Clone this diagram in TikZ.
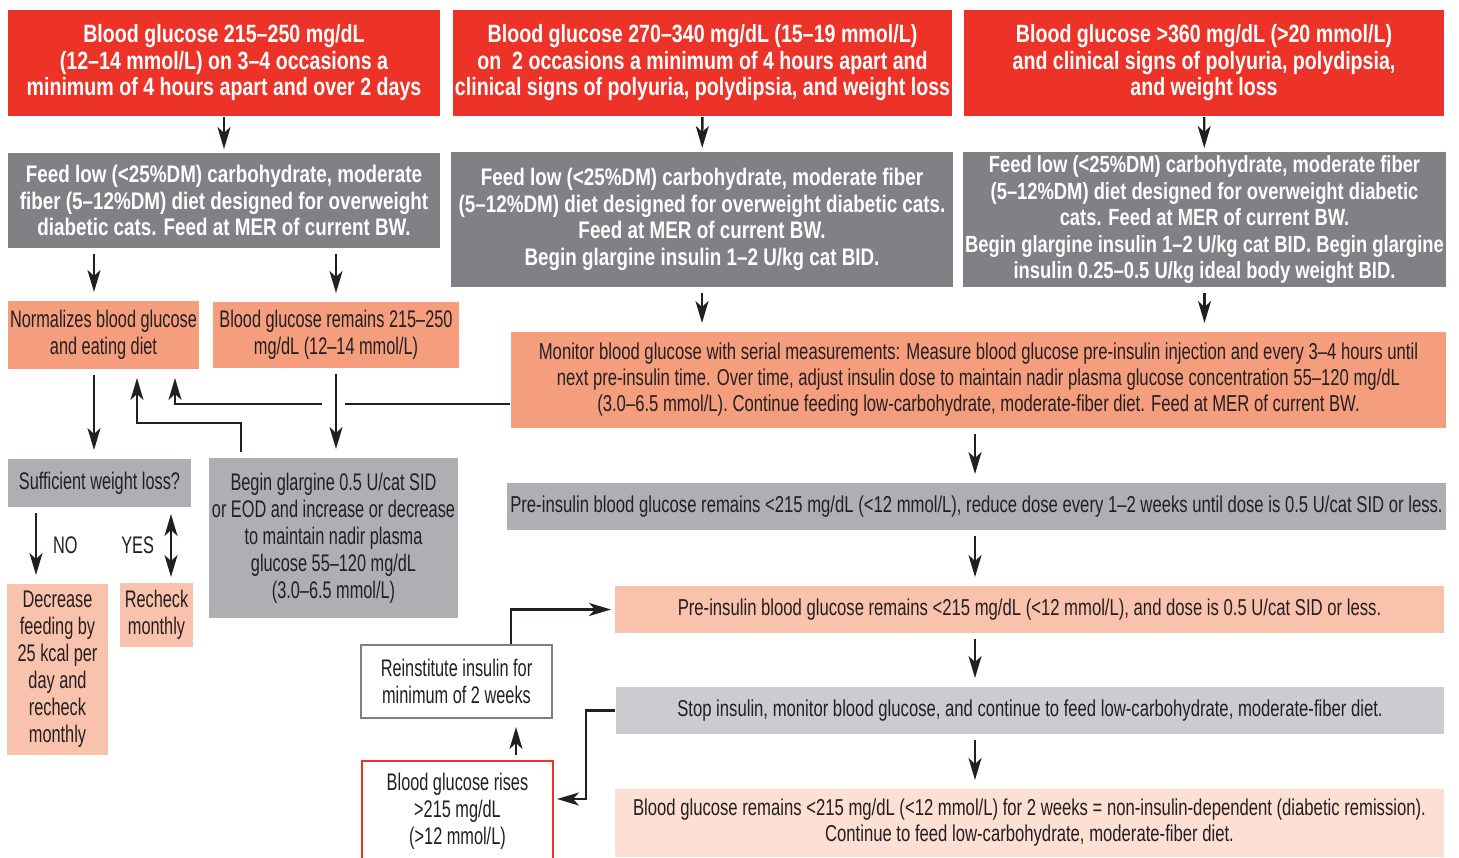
\documentclass[tikz,border=0pt]{standalone}
\usepackage{fontspec}
\setmainfont{Liberation Sans}
\newfontfamily\headfont[FakeStretch=0.785]{Liberation Sans}
\newfontfamily\bodyfont[FakeStretch=0.68]{Liberation Sans}
\newfontfamily\widefont[FakeStretch=0.725]{Liberation Sans}
\usetikzlibrary{arrows.meta}
\definecolor{bgred}{RGB}{237,50,40}
\definecolor{dietgrey}{RGB}{128,129,133}
\definecolor{salmon}{RGB}{245,158,126}
\definecolor{midgrey}{RGB}{174,175,179}
\definecolor{peach}{RGB}{249,194,172}
\definecolor{lightgrey}{RGB}{203,204,207}
\definecolor{blush}{RGB}{253,223,212}
\definecolor{boxgrey}{RGB}{128,128,128}
\definecolor{ink}{RGB}{35,31,32}

\begin{document}
\begin{tikzpicture}[x=0.5pt,y=-0.5pt, line width=1.2pt, every node/.style={align=center,inner sep=0pt,line width=1pt},
  head/.style={fill=bgred,text=white,font=\headfont\bfseries\fontsize{12.5}{13.25}\selectfont},
  diet/.style={fill=dietgrey,text=white,font=\headfont\bfseries\fontsize{12}{13.25}\selectfont},
  body/.style={text=ink,font=\bodyfont\fontsize{12}{13.5}\selectfont},
  wide/.style={text=ink,font=\widefont\fontsize{11.5}{13}\selectfont},
  sz/.style 2 args={minimum width=#1*0.5pt,minimum height=#2*0.5pt},
  arr/.style={->,shorten >=1.5pt}, varr/.style={->,shorten <=2.5pt,shorten >=4pt},
  >={Stealth[length=11pt,width=6.5pt,inset=3pt]}, draw=ink]
\useasboundingbox (0,0) rectangle (1459,857);
\clip (0,0) rectangle (1459,857);
\node[head,sz={432}{106}] (bg1) at (224,63) {Blood glucose 215–250 mg/dL\\(12–14 mmol/L) on 3–4 occasions a\\minimum of 4 hours apart and over 2 days};
\node[head,sz={499}{106}] (bg2) at (702.5,63) {Blood glucose 270–340 mg/dL (15–19 mmol/L)\\on~ 2 occasions a minimum of 4 hours apart and\\clinical signs of polyuria, polydipsia, and weight loss};
\node[head,sz={480}{106}] (bg3) at (1204,63) {Blood glucose >360 mg/dL (>20 mmol/L)\\and clinical signs of polyuria, polydipsia,\\and weight loss};
\node[diet,sz={432}{95}] (diet1) at (224,200.5) {Feed low (<25\%DM) carbohydrate, moderate\\fiber (5–12\%DM) diet designed for overweight\\diabetic cats. Feed at MER of current BW.};
\node[diet,sz={502}{135}] (diet2) at (702,219.5) {Feed low (<25\%DM) carbohydrate, moderate fiber\\(5–12\%DM) diet designed for overweight diabetic cats.\\Feed at MER of current BW.\\Begin glargine insulin 1–2 U/kg cat BID.};
\node[diet,sz={483}{135},font=\headfont\bfseries\fontsize{11.7}{13.25}\selectfont] (diet3) at (1204.5,219.5) {Feed low (<25\%DM) carbohydrate, moderate fiber\\(5–12\%DM) diet designed for overweight diabetic\\cats. Feed at MER of current BW.\\Begin glargine insulin 1–2 U/kg cat BID. Begin glargine\\insulin 0.25–0.5 U/kg ideal body weight BID.};
\node[body,fill=salmon,sz={191}{68}] (normal) at (103.5,335) {Normalizes blood glucose\\and eating diet};
\node[body,fill=salmon,sz={246}{66}] (remain) at (336,335) {Blood glucose remains 215–250\\mg/dL (12–14 mmol/L)};
\node[wide,fill=salmon,sz={935}{96}] (monitor) at (978.5,380) {Monitor blood glucose with serial measurements: Measure blood glucose pre-insulin injection and every 3–4 hours until\\next pre-insulin time. Over time, adjust insulin dose to maintain nadir plasma glucose concentration 55–120 mg/dL\\(3.0–6.5 mmol/L). Continue feeding low-carbohydrate, moderate-fiber diet. Feed at MER of current BW.};
\node[body,fill=midgrey,sz={183}{48}] (wtloss) at (99.5,483) {Sufficient weight loss?};
\node[body,fill=midgrey,sz={249}{160}] (glarg) at (333.5,538) {Begin glargine 0.5 U/cat SID\\or EOD and increase or decrease\\to maintain nadir plasma\\glucose 55–120 mg/dL\\(3.0–6.5 mmol/L)};
\node[wide,fill=midgrey,sz={939}{47}] (reduce) at (976.5,506.5) {Pre-insulin blood glucose remains <215 mg/dL (<12 mmol/L), reduce dose every 1–2 weeks until dose is 0.5 U/cat SID or less.};
\node[body,fill=peach,sz={101}{171}] (decr) at (57.5,669.5) {Decrease\\feeding by\\25 kcal per\\day and\\recheck\\monthly};
\node[body,fill=peach,sz={73}{64}] (recheck) at (156.5,615) {Recheck\\monthly};
\node[wide,fill=peach,sz={829}{47}] (lowdose) at (1029.5,609.5) {Pre-insulin blood glucose remains <215 mg/dL (<12 mmol/L), and dose is 0.5 U/cat SID or less.};
\node[body,draw=boxgrey,fill=white,sz={191}{73}] (reinst) at (456.5,681.5) {Reinstitute insulin for\\minimum of 2 weeks};
\node[wide,fill=lightgrey,sz={828}{47}] (stop) at (1030,710.5) {Stop insulin, monitor blood glucose, and continue to feed low-carbohydrate, moderate-fiber diet.};
\node[body,draw=bgred,fill=white,sz={191}{100}] (rises) at (457.5,811) {Blood glucose rises\\>215 mg/dL\\(>12 mmol/L)};
\node[wide,fill=blush,sz={829}{68}] (remiss) at (1029.5,823) {Blood glucose remains <215 mg/dL (<12 mmol/L) for 2 weeks = non-insulin-dependent (diabetic remission).\\Continue to feed low-carbohydrate, moderate-fiber diet.};
\coordinate (cA) at (94,0); \coordinate (cB) at (175,404); \coordinate (cC) at (241,423); \coordinate (cD) at (137,0);
\coordinate (cE) at (36,0); \coordinate (cF) at (171,0); \coordinate (cG) at (975,0); \coordinate (cH) at (516,0);
\coordinate (cI) at (511,0); \coordinate (hopR) at (345,404); \coordinate (hopL) at (327,404); \coordinate (turn) at (586,799);
\draw[arr] (bg1) -- (diet1); \draw[arr] (bg2) -- (diet2); \draw[arr] (bg3) -- (diet3);
\draw[varr] (diet1.south -| cA) -- (normal.north -| cA); \draw[varr] (diet1.south -| remain) -- (remain);
\draw[varr] (diet2) -- (diet2 |- monitor.north); \draw[varr] (diet3) -- (diet3 |- monitor.north);
\draw[varr] (normal.south -| cA) -- (wtloss.north -| cA); \draw[varr] (remain) -- (remain |- glarg.north);
\draw (monitor.west |- hopR) -- (hopR); \draw[varr] (hopL) -- (cB) -- (normal.south -| cB);
\draw[varr] (glarg.north -| cC) -- (cC) -| (normal.south -| cD);
\draw[varr] (wtloss.south -| cE) -- node[right=8pt,body]{NO} (decr.north -| cE);
\draw[<->,shorten <=3pt,shorten >=2.5pt] (wtloss.south -| cF) -- node[left=8pt,body]{YES} (recheck.north -| cF);
\draw[varr] (monitor.south -| cG) -- (reduce.north -| cG); \draw[varr] (reduce.south -| cG) -- (lowdose.north -| cG);
\draw[varr] (lowdose.south -| cG) -- (stop.north -| cG); \draw[varr] (stop.south -| cG) -- (remiss.north -| cG);
\draw[arr] (stop.west) -| (turn) -- (turn -| rises.east);
\draw[varr] (rises.north -| cH) -- (reinst.south -| cH);
\draw[arr] (reinst.north -| cI) |- (lowdose.west);
\end{tikzpicture}
\end{document}
